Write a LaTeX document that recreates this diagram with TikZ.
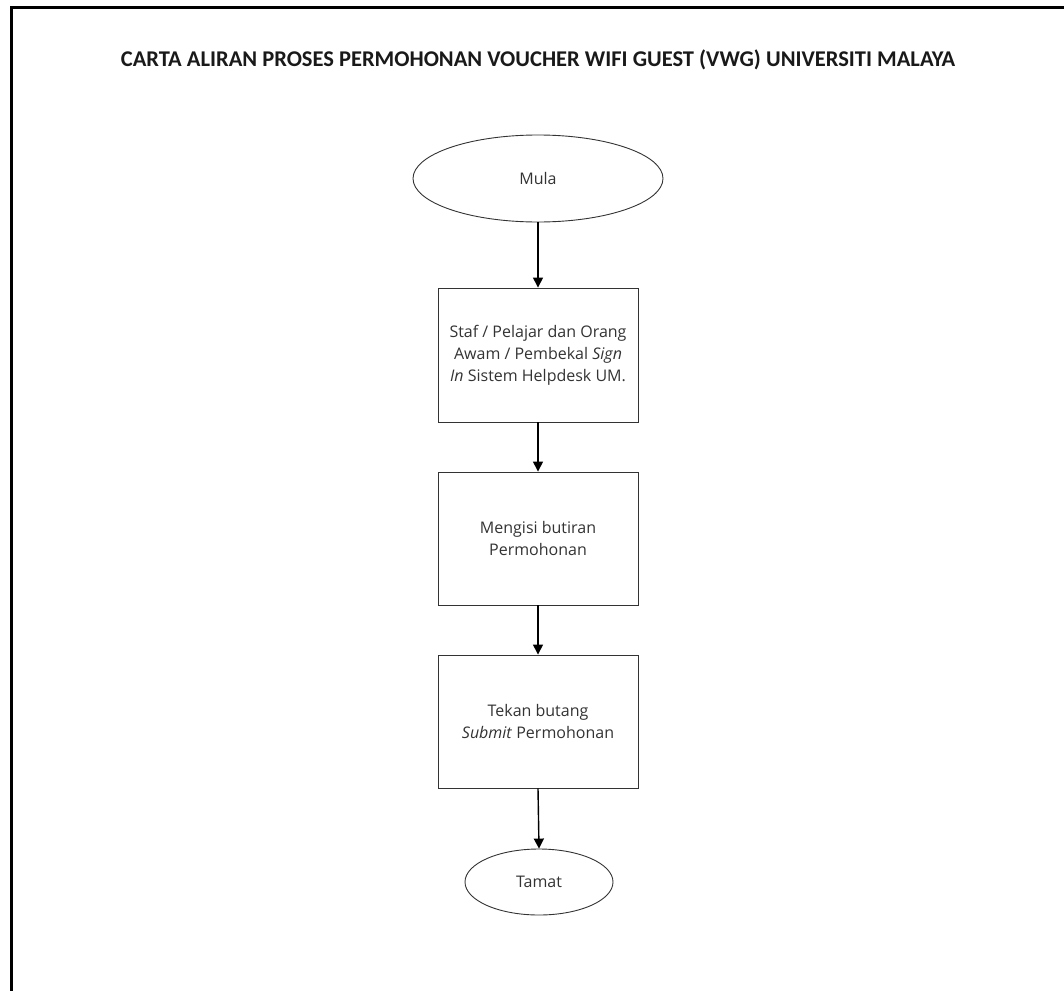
\documentclass[tikz,border=0pt]{standalone}
\usepackage{fontspec}
\setmainfont{Open Sans}
\newfontfamily\titlefont{Carlito}
\usetikzlibrary{arrows.meta,shapes.geometric}
\begin{document}
\begin{tikzpicture}[x=1pt,y=-1pt,
  shapeline/.style={draw=black!80,line width=0.9pt},
  procbox/.style={shapeline,rectangle,minimum width=200pt,minimum height=134pt,inner sep=0pt,align=center,font=\fontsize{16}{22}\selectfont,text=black!80},
  term/.style={shapeline,ellipse,inner sep=0pt,font=\fontsize{16}{22}\selectfont,text=black!80},
  flow/.style={draw=black,line width=1.4pt,-{Triangle[length=10pt,width=10pt]}}]
\useasboundingbox (0,0) rectangle (1064,990);
\draw[line width=3pt] (11,992) -- (11,8) -- (1066,8);
\node[font=\titlefont\bfseries\fontsize{22.5}{24}\selectfont,text=black!90] (title) at (538,60) {CARTA ALIRAN PROSES PERMOHONAN VOUCHER WIFI GUEST (VWG) UNIVERSITI MALAYA};
\node[term,minimum width=250pt,minimum height=87pt] (mula) at (538,178.5) {Mula};
\node[procbox] (s1) at (538,355) {Staf / Pelajar dan Orang\\Awam / Pembekal \textit{Sign}\\\textit{In} Sistem Helpdesk UM.};
\node[procbox,minimum height=133pt] (s2) at (538,538.5) {Mengisi butiran\\Permohonan};
\node[procbox,minimum height=133pt] (s3) at (538,721.5) {Tekan butang\\\textit{Submit} Permohonan};
\node[term,minimum width=148pt,minimum height=66pt] (tamat) at (539,882) {Tamat};
\draw[flow] (mula) -- (s1);
\draw[flow] (s1) -- (s2);
\draw[flow] (s2) -- (s3);
\draw[flow] (s3.south) -- (tamat.north);
\end{tikzpicture}
\end{document}
